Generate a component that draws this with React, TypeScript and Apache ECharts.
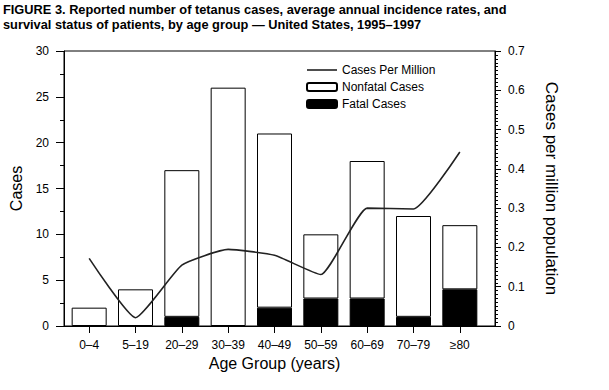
import React, { useEffect, useRef } from "react";
import * as echarts from "echarts";

const categories = ["0–4", "5–19", "20–29", "30–39", "40–49", "50–59", "60–69", "70–79", "≥80"];
const fatalCases = [0, 0, 1, 0, 2, 3, 3, 1, 4];
const nonfatalCases = [2, 4, 16, 26, 19, 7, 15, 11, 7];
const casesPerMillion = [0.172, 0.021, 0.155, 0.195, 0.18, 0.131, 0.3, 0.298, 0.443];
const titleLines = [
  "FIGURE 3. Reported number of tetanus cases, average annual incidence rates, and",
  "survival status of patients, by age group — United States, 1995–1997",
];

const FONT = "'Liberation Sans', Arial, sans-serif";

export default function App() {
  const ref = useRef<HTMLDivElement>(null);
  useEffect(() => {
    if (!ref.current) return;
    const chart = echarts.init(ref.current, null, { renderer: "svg" });
    chart.setOption({
      animation: false,
      backgroundColor: "#fff",
      textStyle: { fontFamily: FONT, color: "#000" },
      title: {
        text: titleLines.join("\n"),
        left: 3,
        top: 2,
        padding: 0,
        textStyle: { fontFamily: FONT, fontSize: 12.8, fontWeight: "bold", color: "#000", lineHeight: 15 },
      },
      legend: {
        orient: "vertical",
        left: 301,
        top: 59,
        itemWidth: 30,
        itemHeight: 8,
        itemGap: 5,
        symbolKeepAspect: true,
        textStyle: { fontFamily: FONT, fontSize: 12, color: "#000" },
        data: [
          {
            name: "Cases Per Million",
            icon: "path://M0 0L30 0L30 1.6L0 1.6Z",
            itemStyle: { color: "#222", borderWidth: 0 },
          },
          { name: "Nonfatal Cases" },
          { name: "Fatal Cases" },
        ],
      },
      grid: [
        { left: 57, right: 114, top: 51, bottom: 64, show: true, borderColor: "#000", borderWidth: 1, backgroundColor: "transparent" },
        { left: 66, right: 126, top: 51, bottom: 64 },
      ],
      xAxis: [
        {
          type: "value",
          gridIndex: 0,
          min: 0,
          max: 1,
          axisLine: { show: true, lineStyle: { color: "#000" } },
          axisTick: { show: false },
          axisLabel: { show: false },
          splitLine: { show: false },
        },
        {
          type: "category",
          gridIndex: 1,
          data: categories,
          axisLine: { show: false },
          axisTick: { show: true, alignWithLabel: true, length: 7, lineStyle: { color: "#000" } },
          axisLabel: { margin: 13, fontSize: 12, color: "#000", fontFamily: FONT },
          name: "Age Group (years)",
          nameLocation: "middle",
          nameGap: 29,
          nameTextStyle: { fontSize: 16, color: "#000", fontFamily: FONT },
        },
      ],
      yAxis: [
        {
          type: "value",
          gridIndex: 0,
          position: "left",
          min: 0,
          max: 30,
          interval: 5,
          axisLine: { show: true, lineStyle: { color: "#000" } },
          axisTick: { show: true, length: 8, lineStyle: { color: "#000" } },
          minorTick: { show: true, splitNumber: 2, length: 4, lineStyle: { color: "#000" } },
          axisLabel: { margin: 15, fontSize: 12, color: "#000", fontFamily: FONT },
          splitLine: { show: false },
          name: "Cases",
          nameLocation: "middle",
          nameGap: 40,
          nameRotate: 90,
          nameTextStyle: { fontSize: 16, color: "#000", fontFamily: FONT },
        },
        {
          type: "value",
          gridIndex: 0,
          position: "right",
          min: 0,
          max: 0.7,
          interval: 0.1,
          axisLine: { show: true, lineStyle: { color: "#000" } },
          axisTick: { show: true, length: 6, lineStyle: { color: "#000" } },
          minorTick: { show: true, splitNumber: 10, length: 3, lineStyle: { color: "#000" } },
          axisLabel: {
            margin: 13,
            fontSize: 12,
            color: "#000",
            fontFamily: FONT,
            formatter: (v: number) => (v === 0 ? "0" : v.toFixed(1)),
          },
          splitLine: { show: false },
          name: "Cases per million population",
          nameLocation: "middle",
          nameGap: 48,
          nameRotate: -90,
          nameTextStyle: { fontSize: 17, color: "#000", fontFamily: FONT },
        },
        { type: "value", gridIndex: 1, min: 0, max: 30, show: false },
        { type: "value", gridIndex: 1, min: 0, max: 0.7, show: false },
      ],
      series: [
        {
          name: "Fatal Cases",
          type: "bar",
          xAxisIndex: 1,
          yAxisIndex: 2,
          stack: "cases",
          barWidth: 35,
          data: fatalCases.map((v) => (v === 0 ? "-" : v)),
          itemStyle: { color: "#000", borderColor: "#000", borderWidth: 1 },
        },
        {
          name: "Nonfatal Cases",
          type: "bar",
          xAxisIndex: 1,
          yAxisIndex: 2,
          stack: "cases",
          barWidth: 35,
          data: nonfatalCases,
          itemStyle: { color: "#fff", borderColor: "#000", borderWidth: 1 },
        },
        {
          name: "Cases Per Million",
          type: "line",
          xAxisIndex: 1,
          yAxisIndex: 3,
          data: casesPerMillion,
          smooth: 0.15,
          showSymbol: false,
          lineStyle: { color: "#222", width: 1.6 },
          itemStyle: { color: "#222" },
          z: 5,
        },
      ],
    });
    return () => chart.dispose();
  }, []);
  return <div ref={ref} style={{ width: 609, height: 390, position: "absolute", left: 0, top: 0 }} />;
}
